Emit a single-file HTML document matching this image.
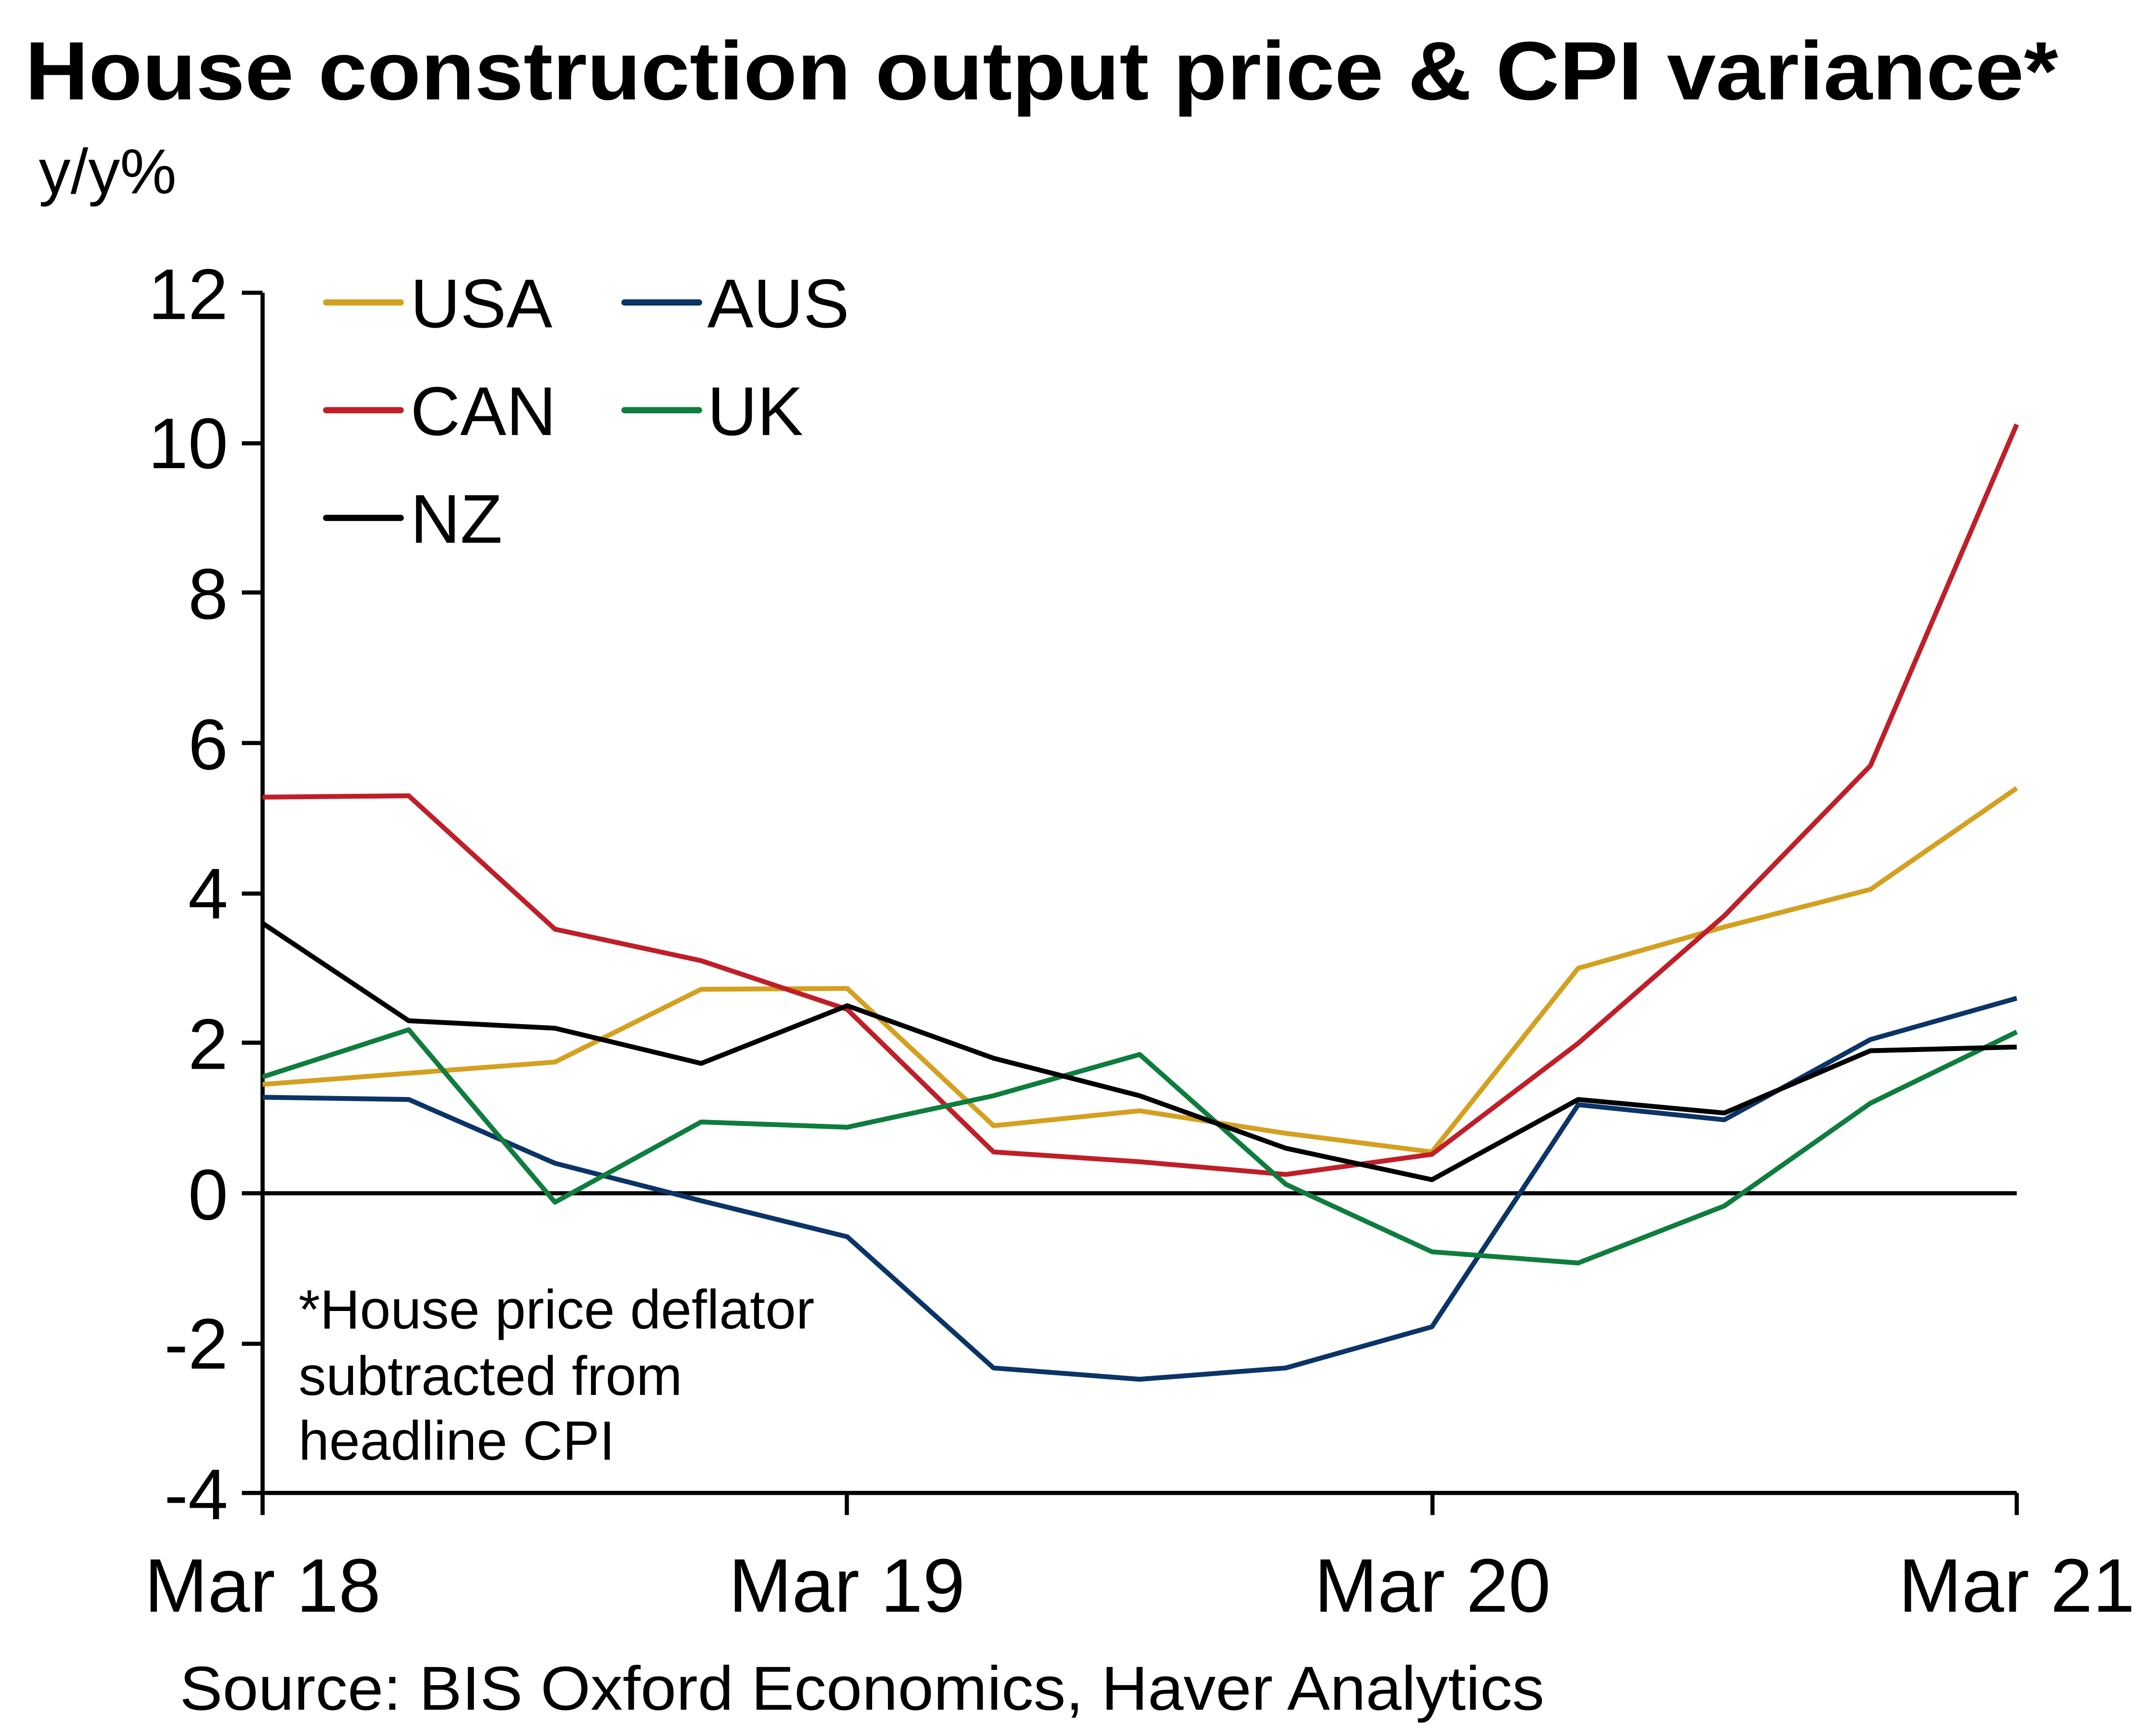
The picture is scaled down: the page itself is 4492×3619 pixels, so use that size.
<!DOCTYPE html>
<html><head><meta charset="utf-8"><style>html,body{margin:0;padding:0;background:#fff}svg{display:block}</style></head>
<body>
<svg width="4492" height="3619" viewBox="0 0 1560 1257" xmlns="http://www.w3.org/2000/svg" font-family="Liberation Sans, Arial, sans-serif">
<rect width="1560" height="1257" fill="#fff"/>
<text x="18" y="72" font-size="60" font-weight="bold" textLength="1472" lengthAdjust="spacingAndGlyphs">House construction output price &amp; CPI variance*</text>
<text x="28" y="140" font-size="46">y/y%</text>
<g font-size="52" text-anchor="end">
<text x="165" y="231">12</text><text x="165" y="339">10</text><text x="165" y="448">8</text><text x="165" y="557">6</text><text x="165" y="665">4</text><text x="165" y="774">2</text><text x="165" y="883">0</text><text x="165" y="991">-2</text><text x="165" y="1100">-4</text>
</g>
<g stroke="#000" stroke-width="3">
<line x1="190" y1="212" x2="190" y2="1081"/>
<line x1="190" y1="1081" x2="1460" y2="1081"/>
<line x1="190" y1="864" x2="1460" y2="864"/>
<line x1="175" y1="212" x2="190" y2="212"/><line x1="175" y1="321" x2="190" y2="321"/><line x1="175" y1="429" x2="190" y2="429"/><line x1="175" y1="538" x2="190" y2="538"/><line x1="175" y1="647" x2="190" y2="647"/><line x1="175" y1="755" x2="190" y2="755"/><line x1="175" y1="864" x2="190" y2="864"/><line x1="175" y1="973" x2="190" y2="973"/><line x1="175" y1="1081" x2="190" y2="1081"/>
<line x1="190" y1="1081" x2="190" y2="1097"/><line x1="613" y1="1081" x2="613" y2="1097"/><line x1="1037" y1="1081" x2="1037" y2="1097"/><line x1="1460" y1="1081" x2="1460" y2="1097"/>
</g>
<g font-size="55" text-anchor="middle">
<text x="190" y="1167">Mar 18</text><text x="613" y="1167">Mar 19</text><text x="1037" y="1167">Mar 20</text><text x="1460" y="1167">Mar 21</text>
</g>
<text x="130" y="1238" font-size="45" textLength="988" lengthAdjust="spacingAndGlyphs">Source: BIS Oxford Economics, Haver Analytics</text>
<g font-size="40"><text x="216" y="962">*House price deflator</text><text x="216" y="1010">subtracted from</text><text x="216" y="1057">headline CPI</text></g>
<g fill="none" stroke-width="3.5" stroke-linejoin="round">
<polyline stroke="#D4A020" points="190,785.2 295.8,777.1 401.7,769.0 507.5,716.3 613.3,715.7 719.2,815.1 825,804.3 930.8,820.6 1036.6,834.1 1142.5,701.1 1248.3,671.2 1354.1,644.0 1460,570.7"/>
<polyline stroke="#C01E28" points="190,577.2 295.8,576.2 401.7,672.8 507.5,695.6 613.3,730.9 719.2,834.1 825,841.2 930.8,850.4 1036.6,835.8 1142.5,755.4 1248.3,663.1 1354.1,554.4 1460,307.3"/>
<polyline stroke="#0B3467" points="190,794.5 295.8,796.1 401.7,842.3 507.5,869.4 613.3,895.5 719.2,990.5 825,998.7 930.8,990.5 1036.6,960.7 1142.5,799.9 1248.3,810.8 1354.1,752.7 1460,722.8"/>
<polyline stroke="#0E7D3D" points="190,779.8 295.8,745.6 401.7,870.5 507.5,812.4 613.3,816.2 719.2,793.4 825,763.5 930.8,857.5 1036.6,906.4 1142.5,914.5 1248.3,873.2 1354.1,798.8 1460,747.2"/>
<polyline stroke="#000" points="190,668.5 295.8,739.1 401.7,744.5 507.5,770.0 613.3,728.2 719.2,766.2 825,793.4 930.8,831.4 1036.6,854.2 1142.5,796.1 1248.3,805.9 1354.1,760.8 1460,758.1"/>
</g>
<g stroke-width="4.5" stroke-linecap="round">
<line x1="236" y1="219" x2="290" y2="219" stroke="#D4A020"/>
<line x1="452" y1="219" x2="506" y2="219" stroke="#0B3467"/>
<line x1="236" y1="297" x2="290" y2="297" stroke="#C01E28"/>
<line x1="452" y1="297" x2="506" y2="297" stroke="#0E7D3D"/>
<line x1="236" y1="375" x2="290" y2="375" stroke="#000"/>
</g>
<g font-size="50">
<text x="297" y="237">USA</text><text x="512" y="237">AUS</text>
<text x="297" y="315">CAN</text><text x="512" y="315">UK</text>
<text x="297" y="393">NZ</text>
</g>
</svg>
</body></html>
